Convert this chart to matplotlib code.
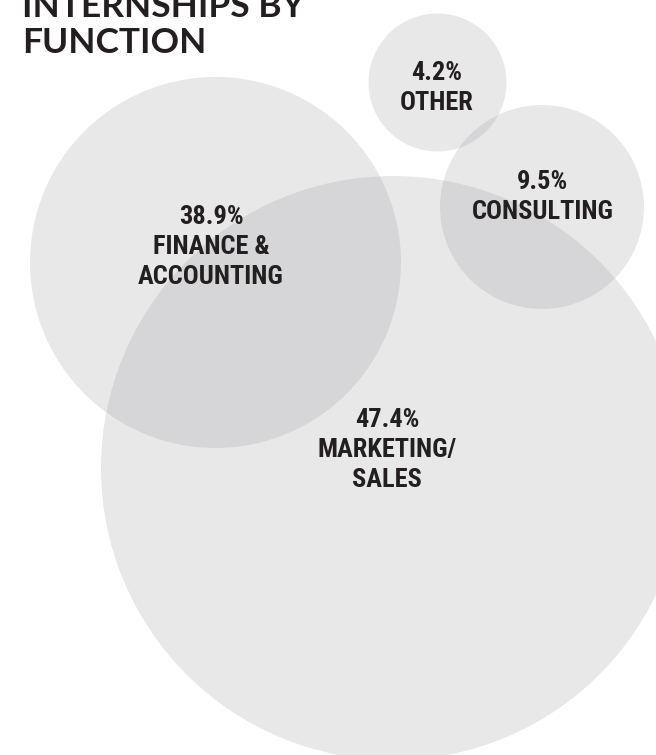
import matplotlib
matplotlib.use("Agg")
import matplotlib.pyplot as plt
from matplotlib.patches import Circle
from matplotlib import font_manager

# ---- data ----
categories = ["OTHER", "CONSULTING", "FINANCE &\nACCOUNTING", "MARKETING/\nSALES"]
shares = [4.2, 9.5, 38.9, 47.4]
title_lines = ["INTERNSHIPS BY", "FUNCTION"]

# ---- layout (pixel coordinates, y downward) ----
centers_x = [437.5, 542, 215.5, 393]
centers_y = [82.5, 207, 262.5, 468]
radii = [69, 102, 185.5, 292]
label_x = [437, 543, 211, 387]
label_y = [88, 197, 247, 450]

W, H = 656, 755
fig = plt.figure(figsize=(W / 100, H / 100), dpi=100)
ax = fig.add_axes([0, 0, 1, 1])
ax.set_xlim(0, W)
ax.set_ylim(H, 0)
ax.set_aspect("equal")
ax.axis("off")

fill = (0.62, 0.62, 0.64)
for cx, cy, r in zip(centers_x, centers_y, radii):
    ax.add_patch(Circle((cx, cy), r, facecolor=fill, edgecolor="none", alpha=0.23))

# pick a condensed bold face if one is installed
names = {f.name for f in font_manager.fontManager.ttflist}
cond = [n for n in ["Roboto Condensed", "Liberation Sans Narrow", "Open Sans Condensed",
                    "DejaVu Sans Condensed"] if n in names]
label_font = cond[:1] + ["DejaVu Sans"]
stretch = "normal" if cond else "condensed"

for cat, s, lx, ly in zip(categories, shares, label_x, label_y):
    txt = f"{s:.1f}%\n{cat}"
    ax.text(lx, ly, txt, ha="center", va="center", multialignment="center",
            fontsize=19, fontweight="bold", family=label_font, fontstretch=stretch,
            color="#231f20", linespacing=1.3)

title_font = ["Lato", "DejaVu Sans"]
ax.text(22, 17, title_lines[0], ha="left", va="baseline", fontsize=25.5,
        fontweight="bold", family=title_font, color="#231f20")
ax.text(22, 53, title_lines[1], ha="left", va="baseline", fontsize=25.5,
        fontweight="bold", family=title_font, color="#231f20")

fig.savefig("out.png", dpi=100, facecolor="white")
